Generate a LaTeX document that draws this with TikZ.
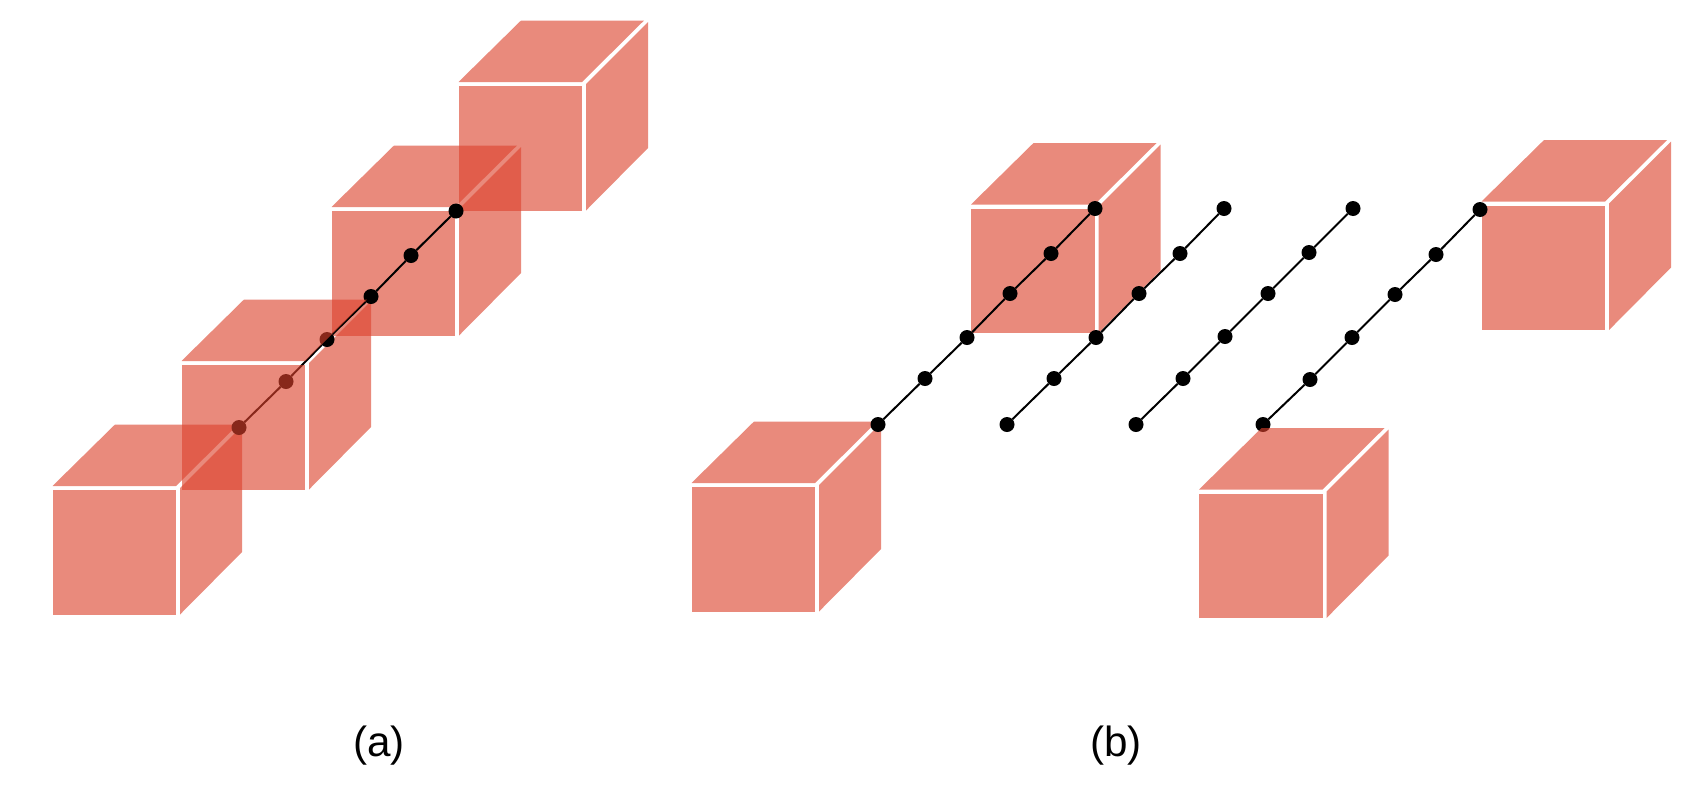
\documentclass[tikz,border=0pt]{standalone}
\usepackage{fontspec}
\setmainfont{Liberation Sans}
\definecolor{cubered}{RGB}{220,66,44}
\tikzset{
  face/.style={fill=cubered,fill opacity=0.62},
  dot/.style={circle,fill=black,inner sep=0pt,outer sep=0pt,minimum size=1.5mm},
  rod/.style={line width=0.2mm,black},
  caption/.style={font=\fontsize{12}{14}\selectfont}
}
% X,Y is the front top corner of the cube
\newcommand{\cubeside}[2]{
\fill[face,shift={(#1,#2)}] (2,0) -- (64,-62) -- (64,64) -- (2,126.5) -- cycle;
}
\newcommand{\cubefront}[2]{
\fill[face,shift={(#1,#2)}] (-125.5,-2) -- (-63,-63.5) -- (60,-63.5) -- (-2,-2) -- cycle;
\fill[face,shift={(#1,#2)}] (-125.5,2) rectangle (-2,126.5);
}
\begin{document}
\begin{tikzpicture}[x=0.1mm,y=-0.1mm]
\useasboundingbox (0,0) rectangle (1700,790);
% (a)
\cubeside{178}{488}
\cubefront{178}{488}
\cubeside{584}{84}
\cubefront{584}{84}
\cubeside{457}{209}
\cubefront{457}{209}
\cubeside{307}{363}
\node[dot] (a1) at (239,427.5) {};
\node[dot] (a2) at (286,381.5) {};
\node[dot] (a3) at (327,339.5) {};
\node[dot] (a4) at (371,296.5) {};
\node[dot] (a5) at (411,255.5) {};
\node[dot] (a6) at (456,211) {};
\draw[rod] (a1) -- (a2) -- (a3) -- (a4) -- (a5) -- (a6);
\cubefront{307}{363}
% (b)
\cubeside{817}{485}
\cubefront{817}{485}
\cubeside{1096.5}{206.5}
\cubefront{1096.5}{206.5}
\cubeside{1607}{203.5}
\cubefront{1607}{203.5}
\node[dot] (p1) at (878,424.5) {};
\node[dot] (p2) at (925,378.5) {};
\node[dot] (p3) at (967,337.5) {};
\node[dot] (p4) at (1010,293.5) {};
\node[dot] (p5) at (1051,253.5) {};
\node[dot] (p6) at (1095,208.5) {};
\draw[rod] (p1) -- (p2) -- (p3) -- (p4) -- (p5) -- (p6);
\node[dot] (q1) at (1007,424.5) {};
\node[dot] (q2) at (1054,378.5) {};
\node[dot] (q3) at (1096,337.5) {};
\node[dot] (q4) at (1139,293.5) {};
\node[dot] (q5) at (1180,253.5) {};
\node[dot] (q6) at (1224,208.5) {};
\draw[rod] (q1) -- (q2) -- (q3) -- (q4) -- (q5) -- (q6);
\node[dot] (r1) at (1136,424.5) {};
\node[dot] (r2) at (1183,378.5) {};
\node[dot] (r3) at (1225,336.5) {};
\node[dot] (r4) at (1268,293.5) {};
\node[dot] (r5) at (1309,252.5) {};
\node[dot] (r6) at (1353,208.5) {};
\draw[rod] (r1) -- (r2) -- (r3) -- (r4) -- (r5) -- (r6);
\node[dot] (s1) at (1263,424.5) {};
\node[dot] (s2) at (1310,379.5) {};
\node[dot] (s3) at (1352,337.5) {};
\node[dot] (s4) at (1395,294.5) {};
\node[dot] (s5) at (1436,254.5) {};
\node[dot] (s6) at (1480,209.5) {};
\draw[rod] (s1) -- (s2) -- (s3) -- (s4) -- (s5) -- (s6);
\cubeside{1324.5}{491.5}
\cubefront{1324.5}{491.5}
\node[caption] (capa) at (379,746) {(a)};
\node[caption] (capb) at (1116,746) {(b)};
\end{tikzpicture}
\end{document}
